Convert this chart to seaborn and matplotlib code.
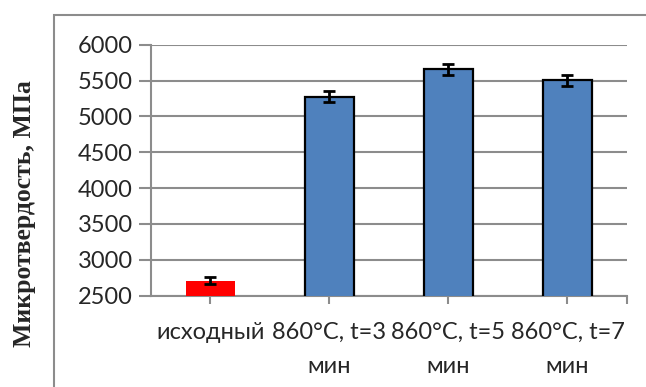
import matplotlib
matplotlib.use("Agg")
import matplotlib.pyplot as plt
import seaborn as sns
import pandas as pd
from matplotlib.patches import Rectangle

categories = ["исходный", "860°C, t=3\nмин", "860°C, t=5\nмин", "860°C, t=7\nмин"]
values = [2710, 5275, 5655, 5505]
errors = [45, 80, 80, 75]
groups = ["init", "treated", "treated", "treated"]
yticks = [2500, 3000, 3500, 4000, 4500, 5000, 5500, 6000]

sns.set_theme(style="white")
plt.rcParams['font.family'] = ['Lato', 'DejaVu Sans']

df = pd.DataFrame({"cat": categories, "val": values, "grp": groups})

fig = plt.figure(figsize=(6.46, 3.87), dpi=100)
ax = fig.add_axes([150.7/646, 1-295.7/387, (627-150.7)/646, (295.7-44.7)/387])

sns.barplot(data=df, x="cat", y="val", hue="grp", order=categories,
            palette={"init": "#FF0000", "treated": "#4F81BD"}, saturation=1,
            dodge=False, width=0.41, errorbar=None, legend=False, ax=ax,
            edgecolor="black", linewidth=1.6, zorder=3)
for p in ax.patches:
    fc = p.get_facecolor()
    if fc[0] > 0.9 and fc[2] < 0.1:
        p.set_edgecolor("none")

ax.errorbar(x=list(range(len(categories))), y=values, yerr=errors, fmt="none",
            ecolor="black", elinewidth=2, capsize=4.5, capthick=2, zorder=4)

ax.set_ylim(2500, 6000)
ax.set_xlim(-0.5, 3.5)
ax.set_yticks(yticks)
ax.set_yticklabels([str(t) for t in yticks], fontsize=17)
ax.set_xticks(range(len(categories)))
ax.set_xticklabels(categories, fontsize=17, linespacing=1.75)
ax.set_xticks([3.5], minor=True)
ax.grid(axis="y", color="#8c8c8c", linewidth=1.5, zorder=0)
ax.set_axisbelow(True)
for s in ["top", "right"]:
    ax.spines[s].set_visible(False)
ax.spines["left"].set_color("#8c8c8c")
ax.spines["left"].set_linewidth(1.5)
ax.spines["bottom"].set_color("#8c8c8c")
ax.spines["bottom"].set_linewidth(1.5)
ax.tick_params(axis="y", which="major", length=9, width=1.5, color="#8c8c8c", pad=4, left=True)
ax.tick_params(axis="x", which="both", length=6, width=1.5, color="#8c8c8c", pad=13, bottom=True)
ax.set_xlabel("")
ax.set_ylabel("")

fig.text(25/646, 1-214/387, "Микротвердость, МПа", rotation=90, ha="center", va="center",
         fontsize=18.5, fontweight="bold", family=["Liberation Serif", "DejaVu Serif"])

fig.patches.append(Rectangle((54/646, -0.1), 1.0, 1.1 - 15/387, transform=fig.transFigure,
                             fill=False, edgecolor="#8c8c8c", linewidth=1.5))

fig.savefig("out.png", dpi=100)
